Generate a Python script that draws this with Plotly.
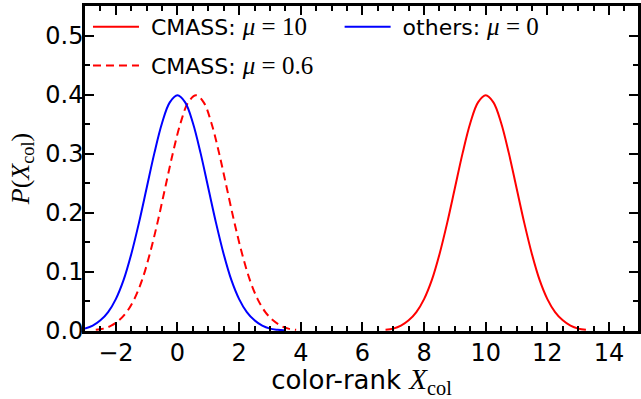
import plotly.graph_objects as go

# sample positions and values
x_cmass10 = [6.75, 7.0, 7.25, 7.5, 7.75, 8.0, 8.25, 8.5, 8.75, 9.0, 9.25, 9.5, 9.75, 10.0,
             10.25, 10.5, 10.75, 11.0, 11.25, 11.5, 11.75, 12.0, 12.25, 12.5, 12.75, 13.0, 13.25]
y_cmass10 = [0.002, 0.004, 0.009, 0.018, 0.032, 0.054, 0.086, 0.130, 0.183, 0.242, 0.301, 0.352, 0.387, 0.399,
             0.387, 0.352, 0.301, 0.242, 0.183, 0.130, 0.086, 0.054, 0.032, 0.018, 0.009, 0.004, 0.002]

x_cmass06 = [-2.65, -2.4, -2.15, -1.9, -1.65, -1.4, -1.15, -0.9, -0.65, -0.4, -0.15, 0.1, 0.35, 0.6,
             0.85, 1.1, 1.35, 1.6, 1.85, 2.1, 2.35, 2.6, 2.85, 3.1, 3.35, 3.6, 3.85]
y_cmass06 = [0.002, 0.004, 0.009, 0.018, 0.032, 0.054, 0.086, 0.130, 0.183, 0.242, 0.301, 0.352, 0.387, 0.399,
             0.387, 0.352, 0.301, 0.242, 0.183, 0.130, 0.086, 0.054, 0.032, 0.018, 0.009, 0.004, 0.002]

x_others = [-3.0, -2.75, -2.5, -2.25, -2.0, -1.75, -1.5, -1.25, -1.0, -0.75, -0.5, -0.25, 0.0,
            0.25, 0.5, 0.75, 1.0, 1.25, 1.5, 1.75, 2.0, 2.25, 2.5, 2.75, 3.0, 3.25, 3.5]
y_others = [0.004, 0.009, 0.018, 0.032, 0.054, 0.086, 0.130, 0.183, 0.242, 0.301, 0.352, 0.387, 0.399,
            0.387, 0.352, 0.301, 0.242, 0.183, 0.130, 0.086, 0.054, 0.032, 0.018, 0.009, 0.004, 0.002, 0.001]

SERIF = "Liberation Serif"
SANS = "DejaVu Sans"

def mu(label, val):
    return (f"\u00a0{label}: <span style='font-family:{SERIF};font-size:25px'>"
            f"<i>μ</i> = {val}</span>")

fig = go.Figure()
fig.add_trace(go.Scatter(x=x_cmass10, y=y_cmass10, mode="lines", name=mu("CMASS", "10"),
                         line=dict(color="#ff0000", width=2, shape="spline"),
                         legend="legend", legendgroup="a"))
fig.add_trace(go.Scatter(x=x_cmass06, y=y_cmass06, mode="lines", name=mu("CMASS", "0.6"),
                         line=dict(color="#ff0000", width=2, dash="8px,5px", shape="spline"),
                         legend="legend", legendgroup="b"))
fig.add_trace(go.Scatter(x=x_others, y=y_others, mode="lines", name=mu("others", "0"),
                         line=dict(color="#0000ff", width=2, shape="spline"),
                         legend="legend2", legendgroup="c"))

axis_common = dict(
    showgrid=False, zeroline=False, showline=True, linecolor="black", linewidth=2.5,
    mirror="allticks", ticks="inside", ticklen=9, tickwidth=2, tickcolor="black",
    tickfont=dict(family=SANS, size=24, color="black"),
)

PLOT_L = 85
PLOT_W = 641 - PLOT_L

fig.update_xaxes(
    range=[-3, 14.94], tick0=0, dtick=2,
    minor=dict(dtick=0.5, ticks="inside", ticklen=5, tickwidth=1.5, tickcolor="black"),
    title=dict(text=f"color-rank <span style='font-family:{SERIF};font-size:29px'><i>X</i><sub>col</sub></span>",
               font=dict(family=SANS, size=26, color="black"), standoff=2),
    ticklabelstandoff=-2,
    **axis_common,
)
fig.update_yaxes(
    range=[0, 0.55], tick0=0, dtick=0.1, tickformat=".1f",
    minor=dict(dtick=0.05, ticks="inside", ticklen=5, tickwidth=1.5, tickcolor="black"),
    title=dict(text="<i>P</i>(<i>X</i><sub>col</sub>)",
               font=dict(family=SERIF, size=26, color="black"), standoff=9),
    ticklabelstandoff=-6,
    **axis_common,
)

legend_common = dict(
    font=dict(family=SANS, size=22, color="black"),
    bgcolor="rgba(0,0,0,0)", borderwidth=0, itemwidth=46,
    xanchor="left", yanchor="top", tracegroupgap=7,
)
fig.update_layout(
    width=641, height=399,
    margin=dict(l=PLOT_L, r=0, t=6, b=68),
    paper_bgcolor="white", plot_bgcolor="white",
    showlegend=True,
    legend=dict(x=3 / PLOT_W, y=1.0, **legend_common),
    legend2=dict(x=(341 - PLOT_L) / PLOT_W, y=1.0, **legend_common),
)

fig.write_html("out.html")
